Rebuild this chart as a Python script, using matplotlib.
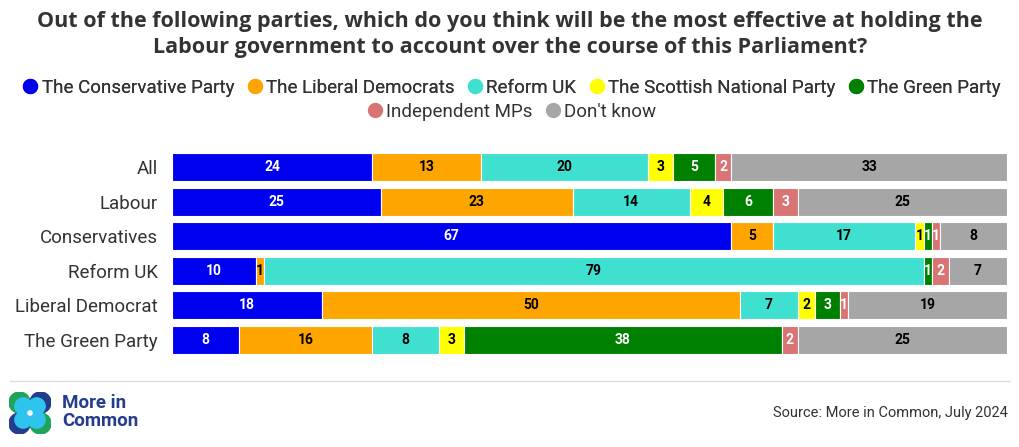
import numpy as np
import matplotlib
matplotlib.use("Agg")
from matplotlib import pyplot as plt
from matplotlib.patches import Circle

plt.rcParams['font.family'] = ['Roboto', 'DejaVu Sans']

groups = ['All', 'Labour', 'Conservatives', 'Reform UK', 'Liberal Democrat', 'The Green Party']
parties = ['The Conservative Party', 'The Liberal Democrats', 'Reform UK',
           'The Scottish National Party', 'The Green Party', 'Independent MPs', "Don't know"]
colors = ['#0000F0', '#FFA500', '#40E0D0', '#FFFF00', '#008000', '#D87474', '#A6A6A6']
label_colors = ['white', 'black', 'black', 'black', 'white', 'white', 'black']

conservative = [24, 25, 67, 10, 18, 8]
libdem = [13, 23, 5, 1, 50, 16]
reform = [20, 14, 17, 79, 7, 8]
snp = [3, 4, 1, 0, 2, 3]
green = [5, 6, 1, 1, 3, 38]
independent = [2, 3, 1, 2, 1, 2]
dont_know = [33, 25, 8, 7, 19, 25]
series = [conservative, libdem, reform, snp, green, independent, dont_know]

fig = plt.figure(figsize=[10.2, 4.47], dpi=100)
ax = fig.add_axes([172 / 1020, 1 - 357 / 447, 835 / 1020, 207 / 447])

y = np.arange(len(groups))
left = np.zeros(len(groups))
for vals, col, lc in zip(series, colors, label_colors):
    vals = np.array(vals, dtype=float)
    ax.barh(y, vals, left=left, height=0.8, color=col, edgecolor='white', linewidth=0.8)
    for yi, (l, v) in enumerate(zip(left, vals)):
        if v > 0:
            ax.text(l + v / 2, yi, f'{int(v)}', ha='center', va='center',
                    fontsize=10, fontweight='bold', color=lc)
    left += vals

ax.set_xlim(0, 100)
ax.set_ylim(len(groups) - 0.5, -0.5)
ax.set_yticks(y)
ax.set_yticklabels(groups, fontsize=13.5, color='#333333')
ax.tick_params(axis='y', length=0, pad=10)
ax.set_xticks([])
for s in ax.spines.values():
    s.set_visible(False)

# title
fig.text(0.5, 1 - 11 / 447, 'Out of the following parties, which do you think will be the most effective at holding the\n'
         'Labour government to account over the course of this Parliament?',
         ha='center', va='top', fontsize=15.5, fontweight='bold', color='#333333', linespacing=1.3,
         family=['Open Sans', 'DejaVu Sans'])

# legend in two centred rows
handles = [plt.Line2D([], [], marker='o', linestyle='', color=c, markersize=10) for c in colors]
leg1 = fig.legend(handles[:5], parties[:5], loc='center', bbox_to_anchor=(0.5, 1 - 88 / 447),
                  ncol=5, frameon=False, fontsize=13.5, handletextpad=0.0, columnspacing=0.5,
                  handlelength=1.2, labelcolor='#333333')
fig.add_artist(leg1)
fig.legend(handles[5:], parties[5:], loc='center', bbox_to_anchor=(0.5, 1 - 112 / 447),
           ncol=2, frameon=False, fontsize=13.5, handletextpad=0.0, columnspacing=0.5,
           handlelength=1.2, labelcolor='#333333')

# footer line
fig.add_artist(plt.Line2D([10 / 1020, 1010 / 1020], [1 - 381 / 447] * 2, color='#DDDDDD', linewidth=1))

# logo
lax = fig.add_axes([9 / 1020, 1 - 434 / 447, 42 / 1020, 42 / 447])
lax.set_xlim(-1, 1)
lax.set_ylim(-1, 1)
lax.set_aspect('equal')
lax.axis('off')
for (cx, cy), c in zip([(-0.5, 0.5), (0.5, 0.5), (-0.5, -0.5), (0.5, -0.5)],
                       ['#1FA35B', '#233C8C', '#233C8C', '#1FA35B']):
    lax.add_patch(Circle((cx, cy), 0.5, color=c))
for cx, cy in [(-0.32, 0.32), (0.32, 0.32), (-0.32, -0.32), (0.32, -0.32)]:
    lax.add_patch(Circle((cx, cy), 0.4, color='#2EC4EE'))
lax.add_patch(Circle((0, 0), 0.1, color='white'))

fig.text(62 / 1020, 1 - 412 / 447, 'More in\nCommon', ha='left', va='center', fontsize=13.5,
         fontweight='bold', color='#233C8C', linespacing=0.95)
fig.text(1008 / 1020, 1 - 413 / 447, 'Source: More in Common, July 2024', ha='right', va='center',
         fontsize=10.5, color='#333333')

plt.savefig('out.png', dpi=100)
